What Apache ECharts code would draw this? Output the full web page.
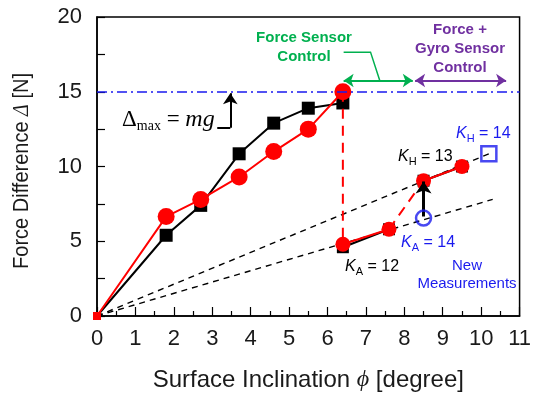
<!DOCTYPE html>
<html>
<head>
<meta charset="utf-8">
<script src="https://cdn.jsdelivr.net/npm/echarts@6/dist/echarts.min.js"></script>
<style>html,body{margin:0;padding:0;background:#fff}#chart{width:534px;height:397px}</style>
</head>
<body>
<div id="chart"></div>
<script>
// measured force difference before / after switching the controller
const angleBefore = [0, 1.8, 2.7, 3.7, 4.6, 5.5, 6.4];
const forceBlackBefore = [0, 5.4, 7.4, 10.85, 12.9, 13.9, 14.25];
const forceRedBefore = [0, 6.65, 7.8, 9.3, 11.0, 12.5, 15.0];
const angleAfter = [6.4, 7.6, 8.5, 9.5];
const forceBlackAfter = [4.6, 5.8, 9.05, 10.0];
const forceRedAfter = [4.8, 5.8, 9.05, 10.0];
// gain lines through the origin and the new measurements
const kLineHigh = [[0, 0], [10.2, 10.85]];
const kLineLow = [[0, 0], [10.3, 7.8]];
const newPointH = [10.2, 10.85];
const newPointA = [8.5, 6.55];
const forceLimit = 15;
const xTicks = [0, 1, 2, 3, 4, 5, 6, 7, 8, 9, 10, 11];
const yTicks = [0, 5, 10, 15, 20];

const GREEN = '#00b04f', PURPLE = '#7030a0', BLUE = '#1a1aee', RED = '#ff0000';
const SANS = 'Liberation Sans';
const SERIF = 'Liberation Serif';

function pts(xs, ys, from, to) {
    return xs.slice(from, to).map((x, i) => [x, ys.slice(from, to)[i]]);
}
function lineSeries(data, color, opts) {
    return Object.assign({
        type: 'line', data: data, z: 3,
        lineStyle: {color: color, width: 2},
        itemStyle: {color: color},
        symbol: 'none'
    }, opts || {});
}
function arrow(coords, color, width, ends, size) {
    return {
        type: 'lines', coordinateSystem: 'cartesian2d', z: 5,
        polyline: coords.length > 2,
        symbol: ends, symbolSize: size,
        lineStyle: {color: color, width: width, opacity: 1},
        data: [{coords: coords}]
    };
}
function kText(x, y, sub, val, color) {
    return {type: 'text', x: x, y: y, z: 10, style: {
        text: '{k|K}{s|' + sub + '}{t| = ' + val + '}', align: 'left', verticalAlign: 'middle',
        rich: {
            k: {fontFamily: SANS, fontSize: 16, fontStyle: 'italic', fill: color, lineHeight: 18},
            s: {fontFamily: SANS, fontSize: 11, fill: color, padding: [9, 0, 0, 0], lineHeight: 18},
            t: {fontFamily: SANS, fontSize: 16, fill: color, lineHeight: 18}
        }}};
}

const last = angleBefore.length - 1;
const dropLine = [[angleBefore[last], forceRedBefore[last]], [angleAfter[0], forceRedAfter[0]]];

let myChart = echarts.init(document.getElementById('chart'));
let option = {
    animation: false,
    grid: {left: 97, right: 12, top: 17, bottom: 81, show: true, borderColor: '#000', borderWidth: 1.5},
    xAxis: {
        type: 'value', min: xTicks[0], max: xTicks[xTicks.length - 1], interval: 1,
        name: 'Surface Inclination {i|ϕ} [degree]', nameLocation: 'middle', nameGap: 52,
        nameTextStyle: {fontFamily: SANS, fontSize: 24, color: '#1a1a1a',
            rich: {i: {fontFamily: SERIF, fontStyle: 'italic', fontSize: 24, color: '#1a1a1a'}}},
        axisLine: {lineStyle: {color: '#000', width: 1.5}},
        axisTick: {inside: true, length: 9, lineStyle: {color: '#000', width: 1.2}},
        minorTick: {show: true, splitNumber: 2, length: 5, lineStyle: {color: '#000', width: 1.2}},
        axisLabel: {fontFamily: SANS, fontSize: 22, color: '#1a1a1a', margin: 12},
        splitLine: {show: false}
    },
    yAxis: {
        type: 'value', min: yTicks[0], max: yTicks[yTicks.length - 1], interval: 2.5,
        axisLine: {lineStyle: {color: '#000', width: 1.5}},
        axisTick: {inside: true, length: 8, lineStyle: {color: '#000', width: 1.2}},
        axisLabel: {fontFamily: SANS, fontSize: 22, color: '#1a1a1a', margin: 15,
            formatter: v => yTicks.includes(v) ? String(v) : ''},
        splitLine: {show: false}
    },
    series: [
        lineSeries(kLineHigh, '#000', {lineStyle: {color: '#000', width: 1.4, type: [6, 5]}, z: 2}),
        lineSeries(kLineLow, '#000', {lineStyle: {color: '#000', width: 1.4, type: [6, 5]}, z: 2}),
        lineSeries(pts(angleBefore, forceBlackBefore), '#000', {
            symbol: 'rect', symbolSize: (v, p) => p.dataIndex === 0 ? 0 : 13}),
        lineSeries(pts(angleAfter, forceBlackAfter, 0, 2), '#000', {symbol: 'rect', symbolSize: 12}),
        lineSeries(pts(angleAfter, forceBlackAfter, 2, 4), '#000', {symbol: 'rect', symbolSize: 12}),
        lineSeries(dropLine, RED, {lineStyle: {color: RED, width: 2, type: [10, 7]}, z: 4}),
        lineSeries(pts(angleAfter, forceRedAfter, 1, 3), RED, {lineStyle: {color: RED, width: 2, type: [10, 7]}, z: 4}),
        lineSeries(pts(angleBefore, forceRedBefore), RED, {
            symbol: (v, p) => p.dataIndex === 0 ? 'rect' : 'circle',
            symbolSize: (v, p) => p.dataIndex === 0 ? 8 : 17, z: 4,
            markLine: {
                silent: true, symbol: 'none', label: {show: false},
                lineStyle: {color: BLUE, width: 1.5, type: [10, 4, 2, 4]},
                data: [{yAxis: forceLimit}]
            }
        }),
        lineSeries(pts(angleAfter, forceRedAfter, 0, 2), RED, {symbol: 'circle', symbolSize: 15, z: 4}),
        lineSeries(pts(angleAfter, forceRedAfter, 2, 4), RED, {symbol: 'circle', symbolSize: 15, z: 4}),
        {type: 'scatter', z: 6, symbol: 'rect', symbolSize: 15, data: [newPointH],
            itemStyle: {color: 'rgba(255,255,255,0)', borderColor: BLUE, borderWidth: 2.5}},
        {type: 'scatter', z: 6, symbol: 'circle', symbolSize: 15, data: [newPointA],
            itemStyle: {color: 'rgba(255,255,255,0)', borderColor: BLUE, borderWidth: 2.5}},
        // annotation arrows
        arrow([[3.13, 12.6], [3.47, 12.6]], '#000', 2, ['none', 'none'], 1),
        arrow([[3.47, 12.6], [3.47, 14.9]], '#000', 2, ['none', 'arrow'], 11),
        arrow([[6.42, 17.65], [7.12, 17.65], [7.36, 15.75]], GREEN, 1.5, ['none', 'none'], 1),
        arrow([[6.42, 15.75], [8.22, 15.75]], GREEN, 2, ['arrow', 'arrow'], 10),
        arrow([[8.28, 15.75], [10.65, 15.75]], PURPLE, 2, ['arrow', 'arrow'], 10),
        arrow([[newPointA[0], newPointA[1] + 0.1], [8.5, 9.0]], '#000', 3, ['none', 'arrow'], 12)
    ],
    graphic: [
        // y axis title
        {type: 'text', x: 22, y: 171, rotation: Math.PI / 2, scaleX: 1, scaleY: 1.12,
            style: {text: 'Force Difference {i|Δ} [N]', align: 'center', verticalAlign: 'middle',
                fill: '#1a1a1a', font: '20px "Liberation Sans"',
                rich: {i: {fontFamily: SERIF, fontStyle: 'italic', fontSize: 20, fill: '#1a1a1a'}}}},
        {type: 'text', x: 304, y: 47, style: {text: 'Force Sensor\nControl', fill: GREEN,
            font: 'bold 15px "Liberation Sans"', lineHeight: 19, align: 'center', verticalAlign: 'middle'}},
        {type: 'text', x: 460, y: 49, style: {text: 'Force +\nGyro Sensor\nControl', fill: PURPLE,
            font: 'bold 15px "Liberation Sans"', lineHeight: 19, align: 'center', verticalAlign: 'middle'}},
        {type: 'text', x: 467, y: 275, style: {text: 'New\nMeasurements', fill: BLUE,
            font: '15px "Liberation Sans"', lineHeight: 18, align: 'center', verticalAlign: 'middle'}},
        {type: 'text', x: 122, y: 120, style: {text: '{d|Δ}{s|max}{e| = }{m|mg}', align: 'left', verticalAlign: 'middle',
            rich: {
                d: {fontFamily: SERIF, fontSize: 23, fill: '#000', lineHeight: 24},
                s: {fontFamily: SERIF, fontSize: 14, fill: '#000', padding: [12, 0, 0, 0], lineHeight: 24},
                e: {fontFamily: SERIF, fontSize: 23, fill: '#000', lineHeight: 24},
                m: {fontFamily: SERIF, fontSize: 24, fontStyle: 'italic', fill: '#000', lineHeight: 24}
            }}},
        kText(398, 157, 'H', '13', '#000'),
        kText(456, 134, 'H', '14', BLUE),
        kText(345, 267, 'A', '12', '#000'),
        kText(401, 243, 'A', '14', BLUE)
    ]
};

myChart.setOption(option);
</script>
</body>
</html>
